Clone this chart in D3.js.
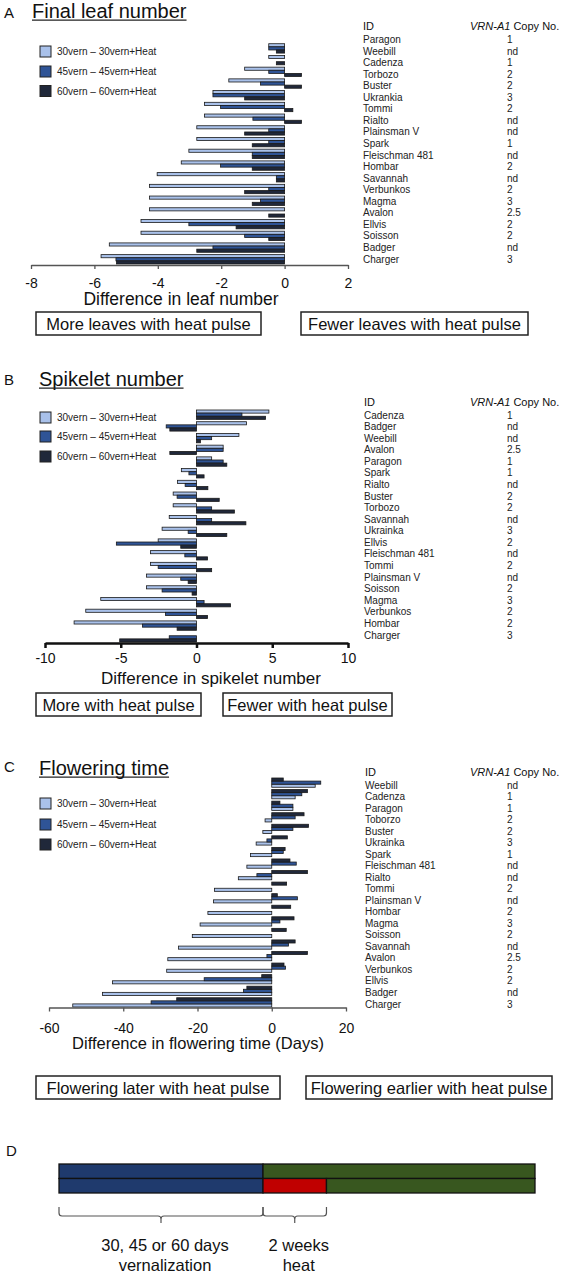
<!DOCTYPE html>
<html>
<head>
<meta charset="utf-8">
<script src="https://cdn.jsdelivr.net/npm/d3@7"></script>
<style>
  html, body { margin: 0; padding: 0; background: #fff; }
  svg { display: block; font-family: "Liberation Sans", Arial, sans-serif; }
</style>
</head>
<body>
<svg id="fig" width="566" height="1273"></svg>
<script>
// series shared by panels A-C
const seriesNames = ["30vern \u2013 30vern+Heat", "45vern \u2013 45vern+Heat", "60vern \u2013 60vern+Heat"];
const seriesColors = ["#a9c1ea", "#2f5496", "#20283a"];

// A: final leaf number
const leafIds = ["Paragon", "Weebill", "Cadenza", "Torbozo", "Buster", "Ukrankia", "Tommi", "Rialto",
  "Plainsman V", "Spark", "Fleischman 481", "Hombar", "Savannah", "Verbunkos", "Magma", "Avalon",
  "Ellvis", "Soisson", "Badger", "Charger"];
const leafCopy = ["1", "nd", "1", "2", "2", "3", "2", "nd", "nd", "1", "nd", "2", "nd", "2", "3", "2.5", "2", "2", "nd", "3"];
const leaf30 = [0, -0.5, -0.5, -1.26, -1.76, -2.26, -2.53, -2.53, -2.77, -2.77, -3.02, -3.26, -4.02, -4.26, -4.26, -4.26, -4.53, -4.53, -5.53, -5.79];
const leaf45 = [0, -0.5, 0, -0.5, -0.76, -2.26, -2.02, -1.0, -0.5, -0.5, -1.02, -2.02, -0.26, -0.5, -0.76, 0, -3.02, -1.26, -2.26, -5.32];
const leaf60 = [0, -0.26, -0.26, 0.53, 0.53, -1.26, 0.26, 0.53, -1.26, -1.02, -1.02, -1.02, -0.26, -1.26, -1.02, -0.5, -1.53, -0.5, -2.77, -5.3];
const leafTicks = [-8, -6, -4, -2, 0, 2];
const leafBoxes = ["More leaves with heat pulse", "Fewer leaves with heat pulse"];

// B: spikelet number
const spikeIds = ["Cadenza", "Badger", "Weebill", "Avalon", "Paragon", "Spark", "Rialto", "Buster", "Torbozo",
  "Savannah", "Ukrainka", "Ellvis", "Fleischman 481", "Tommi", "Plainsman V", "Soisson", "Magma", "Verbunkos",
  "Hombar", "Charger"];
const spikeCopy = ["1", "nd", "nd", "2.5", "1", "1", "nd", "2", "2", "nd", "3", "2", "nd", "2", "nd", "2", "3", "2", "2", "3"];
const spike30 = [4.78, 3.3, 2.8, 1.76, 1.0, -1.0, -1.25, -1.54, -1.54, -1.8, -2.27, -2.53, -3.04, -3.04, -3.3, -3.3, -6.32, -7.31, -8.08, 0];
const spike45 = [3.0, -2.0, 1.0, 1.76, 1.76, -0.5, -0.75, -1.28, 1.0, 1.0, -0.55, -5.29, -0.77, -2.53, -1.04, -2.27, 0.5, -2.05, -3.57, -1.8];
const spike60 = [4.56, -1.76, 0.26, -1.76, 2.0, 0.5, 0.75, 1.5, 2.5, 3.26, 2.0, -1.04, 0.73, 1.0, -0.55, -0.29, 2.25, 0.73, -1.28, -5.07];
const spikeTicks = [-10, -5, 0, 5, 10];
const spikeBoxes = ["More with heat pulse", "Fewer with heat pulse"];

// C: flowering time
const flowerIds = ["Weebill", "Cadenza", "Paragon", "Toborzo", "Buster", "Ukrainka", "Spark", "Fleischman 481",
  "Rialto", "Tommi", "Plainsman V", "Hombar", "Magma", "Soisson", "Savannah", "Avalon", "Verbunkos", "Ellvis",
  "Badger", "Charger"];
const flowerCopy = ["nd", "1", "1", "2", "2", "3", "1", "nd", "nd", "2", "nd", "2", "3", "2", "nd", "2.5", "2", "2", "nd", "3"];
const flower30 = [11.7, 6.3, 5.7, -1.8, -2.4, -4.2, -5.7, -6.7, -9.0, -15.4, -15.7, -17.2, -19.3, -21.4, -25.1, -28.0, -28.3, -42.9, -45.6, -53.6];
const flower45 = [13.2, 8.1, 5.7, 6.3, 5.7, -1.3, 3.1, 6.6, -4.0, 0, 6.9, 0, 2.2, 0, 4.5, -1.3, 3.7, -18.2, -7.6, -32.5];
const flower60 = [3.1, 9.6, 2.2, 8.7, 9.9, 4.2, 3.6, 4.9, 9.6, 4.0, 1.5, 5.1, 6.0, 3.9, 6.3, 9.6, 3.3, -2.7, -6.7, -25.6];
const flowerTicks = [-60, -40, -20, 0, 20];
const flowerBoxes = ["Flowering later with heat pulse", "Flowering earlier with heat pulse"];

// D: treatment scheme (days)
const schemeRows = ["control", "heat"];
const controlStages = [0, 45, 105];
const controlKinds = ["vern", "grow"];
const heatStages = [0, 45, 59, 105];
const heatKinds = ["vern", "heat", "grow"];
const bracketSpans = [[0, 45], [45, 59]];
const bracketLabels = [["30, 45 or 60 days", "vernalization"], ["2 weeks", "heat"]];
const kindColors = { vern: "#1f3a6d", grow: "#38571f", heat: "#c00000" };

const svg = d3.select("#fig");
svg.append("rect").attr("width", 566).attr("height", 1273).attr("fill", "#fff");

function drawPanel(p) {
  const g = svg.append("g");

  // letter + underlined title
  g.append("text").attr("x", 4).attr("y", p.letterY).attr("font-size", 15).attr("fill", "#111").text(p.letter);
  const t = g.append("text").attr("x", p.titleX).attr("y", p.titleY).attr("font-size", 20).attr("fill", "#111").text(p.title);
  const tw = t.node().getComputedTextLength();
  g.append("line").attr("x1", p.titleX).attr("x2", p.titleX + tw)
    .attr("y1", p.titleY + 2.2).attr("y2", p.titleY + 2.2).attr("stroke", "#222").attr("stroke-width", 1.3);

  // legend
  const leg = g.append("g").selectAll("g").data(seriesNames).join("g")
    .attr("transform", (d, i) => `translate(40,${p.legendY[i]})`);
  leg.append("rect").attr("x", 0).attr("y", -5.5).attr("width", 11).attr("height", 11)
    .attr("fill", (d, i) => seriesColors[i]).attr("stroke", "#222").attr("stroke-width", 1);
  leg.append("text").attr("x", 17).attr("y", 3.6).attr("font-size", 10).attr("fill", "#222").text(d => d);

  // bars
  const x = d3.scaleLinear().domain(d3.extent(p.ticks)).range(p.xRange);
  const y = d3.scaleBand().domain(p.ids).range(p.yRange).paddingInner(0.2);
  const sub = d3.scaleBand().domain(p.order).range([0, y.bandwidth()]);
  p.series.forEach((vals, s) => {
    g.append("g").selectAll("rect").data(vals).join("rect")
      .attr("x", d => x(Math.min(0, d)))
      .attr("y", (d, i) => y(p.ids[i]) + sub(s))
      .attr("width", d => Math.abs(x(d) - x(0)))
      .attr("height", sub.bandwidth())
      .attr("fill", seriesColors[s])
      .attr("stroke", "#1a1a1a")
      .attr("stroke-width", 0.8);
  });

  // x axis
  const ax = g.append("g").attr("transform", `translate(0,${p.yRange[1] + p.axisGap})`)
    .call(d3.axisBottom(x).tickValues(p.ticks).tickSize(p.tickSize).tickSizeOuter(0).tickFormat(d => String(d)));
  ax.select(".domain").attr("stroke", p.axisColor).attr("stroke-width", p.axisWidth);
  ax.selectAll(".tick line").attr("stroke", p.axisColor).attr("stroke-width", p.axisWidth);
  ax.selectAll(".tick text").attr("y", p.tickTextY).attr("dy", null)
    .attr("font-size", 14).attr("font-family", "Liberation Sans, Arial, sans-serif").attr("fill", "#111");
  g.append("text").attr("x", p.labelX).attr("y", p.labelY).attr("text-anchor", "middle")
    .attr("font-size", p.labelSize).attr("fill", "#111").text(p.xLabel);

  // side list of IDs and copy numbers
  const ly = d3.scalePoint().domain(p.ids).range(p.listRange);
  g.append("text").attr("x", p.listX).attr("y", p.headerY).attr("font-size", 11).attr("fill", "#111").text("ID");
  const hd = g.append("text").attr("x", 470).attr("y", p.headerY).attr("font-size", 11).attr("fill", "#111");
  hd.append("tspan").attr("font-style", "italic").text("VRN-A1");
  hd.append("tspan").text(" Copy No.");
  g.append("g").selectAll("text").data(p.ids).join("text")
    .attr("x", p.listX).attr("y", d => ly(d) + 3.5).attr("font-size", 10).attr("fill", "#222").text(d => d);
  g.append("g").selectAll("text").data(p.copy).join("text")
    .attr("x", 507).attr("y", (d, i) => ly(p.ids[i]) + 3.5).attr("font-size", 10).attr("fill", "#222").text(d => d);

  // boxed captions
  const bx = g.append("g").selectAll("g").data(p.boxes).join("g");
  bx.append("rect").attr("x", (d, i) => p.boxX[i][0]).attr("y", p.boxY)
    .attr("width", (d, i) => p.boxX[i][1] - p.boxX[i][0]).attr("height", 23)
    .attr("fill", "none").attr("stroke", "#222").attr("stroke-width", 1.5);
  bx.append("text").attr("x", (d, i) => (p.boxX[i][0] + p.boxX[i][1]) / 2).attr("y", p.boxY + 17.5)
    .attr("text-anchor", "middle").attr("font-size", 16.5).attr("fill", "#111").text(d => d);
}

drawPanel({
  letter: "A", letterY: 18, title: "Final leaf number", titleX: 32, titleY: 18,
  legendY: [51.5, 71.5, 91],
  ids: leafIds, copy: leafCopy, series: [leaf30, leaf45, leaf60], order: [0, 1, 2],
  ticks: leafTicks, xRange: [31, 348], yRange: [32, 264], axisGap: 1,
  tickSize: 4, axisColor: "#555", axisWidth: 1.3, tickTextY: 23,
  xLabel: "Difference in leaf number", labelX: 181, labelY: 305, labelSize: 17.5,
  listX: 363, listRange: [39.5, 259], headerY: 30,
  boxes: leafBoxes, boxX: [[36, 261], [301, 528]], boxY: 312
});

drawPanel({
  letter: "B", letterY: 385, title: "Spikelet number", titleX: 39, titleY: 386,
  legendY: [417.5, 436.5, 456.5],
  ids: spikeIds, copy: spikeCopy, series: [spike30, spike45, spike60], order: [0, 1, 2],
  ticks: spikeTicks, xRange: [45, 348], yRange: [410, 642], axisGap: 1,
  tickSize: 5, axisColor: "#111", axisWidth: 2.5, tickTextY: 20,
  xLabel: "Difference in spikelet number", labelX: 211, labelY: 684, labelSize: 17,
  listX: 364, listRange: [415, 635], headerY: 406,
  boxes: spikeBoxes, boxX: [[36, 201], [223, 392]], boxY: 693
});

drawPanel({
  letter: "C", letterY: 772, title: "Flowering time", titleX: 39, titleY: 775,
  legendY: [803.5, 824.5, 844.5],
  ids: flowerIds, copy: flowerCopy, series: [flower30, flower45, flower60], order: [2, 1, 0],
  ticks: flowerTicks, xRange: [49, 346], yRange: [778, 1007], axisGap: 0.5,
  tickSize: 4, axisColor: "#555", axisWidth: 1.3, tickTextY: 25,
  xLabel: "Difference in flowering time (Days)", labelX: 198, labelY: 1049, labelSize: 16.5,
  listX: 365, listRange: [785, 1004], headerY: 776,
  boxes: flowerBoxes, boxX: [[36, 280], [306, 552]], boxY: 1076
});

// D: treatment scheme
const gd = svg.append("g");
gd.append("text").attr("x", 6).attr("y", 1156).attr("font-size", 15).attr("fill", "#111").text("D");
const xd = d3.scaleLinear().domain(d3.extent(controlStages)).range([59, 535]);
const yd = d3.scaleBand().domain(schemeRows).range([1164, 1193]);
[[controlStages, controlKinds], [heatStages, heatKinds]].forEach(([stages, kinds], r) => {
  gd.append("g").selectAll("rect").data(kinds).join("rect")
    .attr("x", (d, i) => xd(stages[i]))
    .attr("y", yd(schemeRows[r]))
    .attr("width", (d, i) => xd(stages[i + 1]) - xd(stages[i]))
    .attr("height", yd.bandwidth())
    .attr("fill", d => kindColors[d])
    .attr("stroke", "#111").attr("stroke-width", 1.3);
});

const bTop = 1207, bMid = 1216, bTip = 1223;
gd.append("g").selectAll("path").data(bracketSpans).join("path")
  .attr("d", ([a, b]) => {
    const x0 = xd(a), x1 = xd(b), xc = (x0 + x1) / 2;
    return `M${x0},${bTop} L${x0},${bMid - 3} Q${x0},${bMid} ${x0 + 3},${bMid} L${xc - 3},${bMid} Q${xc},${bMid} ${xc},${bMid + 3} L${xc},${bTip}` +
      ` M${xc},${bMid + 3} Q${xc},${bMid} ${xc + 3},${bMid} L${x1 - 3},${bMid} Q${x1},${bMid} ${x1},${bMid - 3} L${x1},${bTop}`;
  })
  .attr("fill", "none").attr("stroke", "#555").attr("stroke-width", 1.2);

const bl = gd.append("g").selectAll("text").data(bracketLabels).join("text")
  .attr("text-anchor", "middle").attr("font-size", 16.5).attr("fill", "#111");
bl.selectAll("tspan").data((d, i) => d.map(s => ({ s, i }))).join("tspan")
  .attr("x", d => (xd(bracketSpans[d.i][0]) + xd(bracketSpans[d.i][1])) / 2 + 4)
  .attr("y", (d, j) => 1251 + j * 20)
  .text(d => d.s);
</script>
</body>
</html>
